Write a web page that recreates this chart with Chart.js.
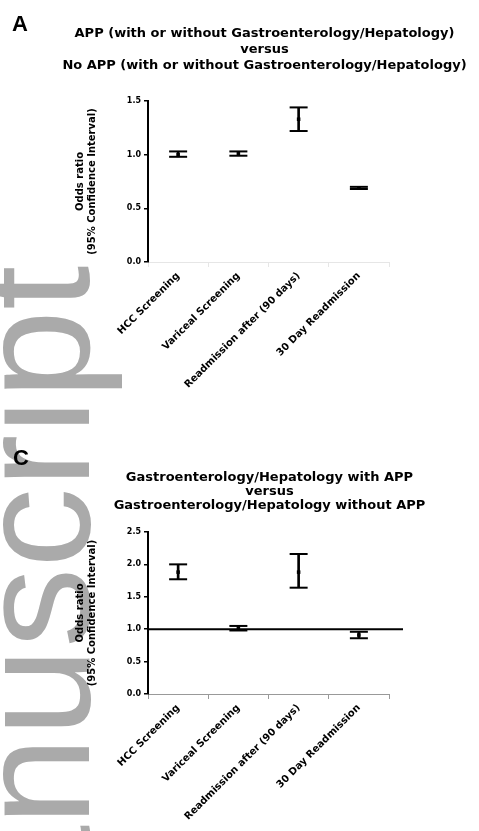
<!DOCTYPE html>
<html>
<head>
<meta charset="utf-8">
<script src="https://cdn.jsdelivr.net/npm/chart.js@4"></script>
<style>
  html, body { margin: 0; padding: 0; background: #fff; }
  body { width: 479px; height: 831px; position: relative; overflow: hidden; font-family: "Liberation Sans", Arial, sans-serif; }
  .wm { position: absolute; left: -46px; top: 1048px; transform: rotate(-90deg); transform-origin: left top;
        font-size: 160px; line-height: 160px; color: #aaaaaa; white-space: nowrap; z-index: 0; }
  .panel { position: absolute; font-weight: bold; font-size: 22px; z-index: 2; }
  canvas { position: absolute; left: 0; z-index: 1; }
</style>
</head>
<body>
<div class="wm">manuscript</div>
<div class="panel" style="left:12px; top:11px;">A</div>
<div class="panel" style="left:13px; top:445px;">C</div>
<canvas id="chartA" width="479" height="430" style="top:0px"></canvas>
<canvas id="chartC" width="479" height="391" style="top:440px"></canvas>
<script>
// outcomes on the x axis
var outcomes = ["HCC Screening", "Variceal Screening", "Readmission after (90 days)", "30 Day Readmission"];

// panel A: APP vs no APP
var orA = [1.00, 1.01, 1.33, 0.69];
var lowA = [0.98, 0.99, 1.22, 0.68];
var highA = [1.03, 1.03, 1.44, 0.70];
var ticksA = [0, 0.5, 1.0, 1.5];

// panel C: GI/Hep with APP vs without APP
var orC = [1.88, 1.02, 1.88, 0.91];
var lowC = [1.77, 0.98, 1.64, 0.86];
var highC = [2.00, 1.05, 2.16, 0.96];
var ticksC = [0, 0.5, 1.0, 1.5, 2.0, 2.5];

var refLine = 1.0;
var FONT = 'DejaVu Sans';

// horizontal line at OR = 1 (panel C only)
var refLinePlugin = {
    id: 'refLine',
    afterDatasetsDraw: function(chart, args, opts) {
        if (!opts.show) return;
        var ctx = chart.ctx;
        var y = chart.scales.y.getPixelForValue(refLine);
        ctx.save();
        ctx.strokeStyle = '#000';
        ctx.lineWidth = 2;
        ctx.beginPath();
        ctx.moveTo(chart.chartArea.left, y);
        ctx.lineTo(chart.chartArea.right + 14, y);
        ctx.stroke();
        ctx.restore();
    }
};

function makeChart(id, title, or, low, high, ticks, opt) {
    var ctx = document.getElementById(id).getContext('2d');
    return new Chart(ctx, {
        type: 'bar',
        data: {
            labels: outcomes,
            datasets: [{
                // whiskers
                type: 'bar',
                data: low.map(function(l, i) { return [l, high[i]]; }),
                backgroundColor: '#000',
                barThickness: 2
            }, {
                type: 'line',
                data: low,
                showLine: false,
                pointStyle: 'line',
                pointRadius: 9,
                pointBorderWidth: 2,
                borderColor: '#000'
            }, {
                type: 'line',
                data: high,
                showLine: false,
                pointStyle: 'line',
                pointRadius: 9,
                pointBorderWidth: 2,
                borderColor: '#000'
            }, {
                type: 'line',
                data: or,
                showLine: false,
                pointStyle: 'rect',
                pointRadius: 2.5,
                pointBorderWidth: 0,
                backgroundColor: '#000',
                borderColor: '#000'
            }]
        },
        options: {
            responsive: false,
            animation: false,
            layout: { padding: { left: opt.padLeft, right: 0, top: 0, bottom: 0 } },
            plugins: {
                legend: { display: false },
                tooltip: { enabled: false },
                refLine: { show: opt.ref },
                title: {
                    display: true,
                    text: title,
                    color: '#000',
                    font: { family: FONT, size: 13, weight: 'bold', lineHeight: opt.titleLH },
                    padding: { top: opt.titleTop, bottom: opt.titleBottom }
                }
            },
            scales: {
                x: {
                    offset: true,
                    grid: { drawOnChartArea: false, tickLength: 5, color: opt.xColor },
                    border: { display: true, color: opt.xColor, width: 1 },
                    ticks: {
                        color: '#000', minRotation: 45, maxRotation: 45, autoSkip: false,
                        font: { family: FONT, size: 10, weight: 'bold' }
                    },
                    afterFit: function(s) { s.height = opt.xHeight; }
                },
                y: {
                    min: 0, max: ticks[ticks.length - 1],
                    afterBuildTicks: function(s) { s.ticks = ticks.map(function(v) { return { value: v }; }); },
                    grid: { drawOnChartArea: false, tickLength: 4, color: '#000', lineWidth: 1.5 },
                    border: { display: true, color: '#000', width: 2 },
                    ticks: {
                        color: '#000', padding: 3,
                        font: { family: FONT, size: 8, weight: 'bold' },
                        callback: function(v) { return Number(v).toFixed(1); }
                    },
                    title: {
                        display: true,
                        text: ['Odds ratio', '(95% Confidence Interval)'],
                        color: '#000',
                        font: { family: FONT, size: 10, weight: 'bold', lineHeight: 1.25 },
                        padding: { top: 148 - 88 - opt.padLeft + 14, bottom: 0 }
                    },
                    afterFit: function(s) { s.width = 148 - opt.padLeft; }
                },
                yR: {
                    position: 'right',
                    display: true,
                    grid: { display: false },
                    border: { display: false },
                    ticks: { display: false },
                    afterFit: function(s) { s.width = 90; }
                }
            }
        },
        plugins: [refLinePlugin]
    });
}

makeChart('chartA',
    ['APP (with or without Gastroenterology/Hepatology)', 'versus', 'No APP (with or without Gastroenterology/Hepatology)'],
    orA, lowA, highA, ticksA,
    { ref: false, padLeft: 50, titleLH: 1.23, titleTop: 26, titleBottom: 27, xHeight: 168, xColor: '#e6e6e6' });

makeChart('chartC',
    ['Gastroenterology/Hepatology with APP', 'versus', 'Gastroenterology/Hepatology without APP'],
    orC, lowC, highC, ticksC,
    { ref: true, padLeft: 60, titleLH: 1.05, titleTop: 31, titleBottom: 20, xHeight: 137, xColor: '#999' });
</script>
</body>
</html>
